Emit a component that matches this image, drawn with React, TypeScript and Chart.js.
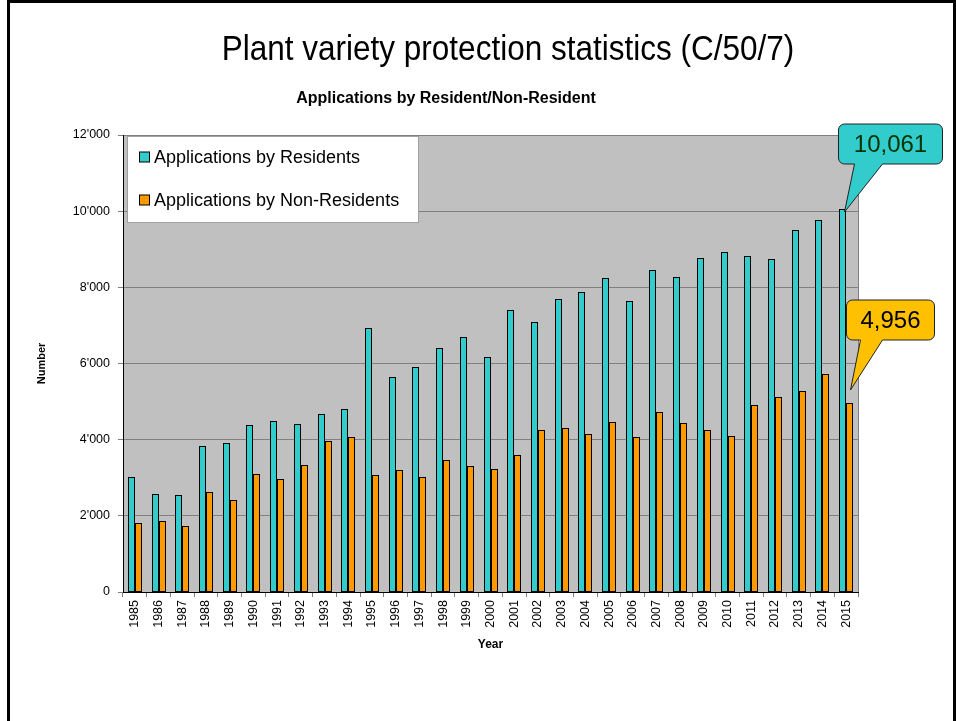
import React, { useEffect, useRef } from 'react';
import { Chart, registerables } from 'chart.js';

Chart.register(...registerables);

const FONT = "'Liberation Sans', Arial, Helvetica, sans-serif";

const chartTitle = 'Plant variety protection statistics (C/50/7)';
const chartSubtitle = 'Applications by Resident/Non-Resident';
const xAxisTitle = 'Year';
const yAxisTitle = 'Number';

const years = [
  '1985', '1986', '1987', '1988', '1989', '1990', '1991', '1992', '1993', '1994',
  '1995', '1996', '1997', '1998', '1999', '2000', '2001', '2002', '2003', '2004',
  '2005', '2006', '2007', '2008', '2009', '2010', '2011', '2012', '2013', '2014', '2015',
];

const residents = [
  3018, 2561, 2535, 3833, 3912, 4386, 4491, 4421, 4667, 4816,
  6939, 5640, 5912, 6395, 6693, 6158, 7395, 7088, 7684, 7877,
  8246, 7632, 8456, 8263, 8781, 8939, 8825, 8746, 9509, 9781, 10061,
];

const nonResidents = [
  1807, 1868, 1737, 2614, 2404, 3105, 2974, 3342, 3974, 4079,
  3061, 3193, 3009, 3474, 3316, 3228, 3588, 4254, 4307, 4158,
  4456, 4070, 4737, 4447, 4254, 4105, 4904, 5132, 5289, 5737, 4956,
];

const yTicks = [0, 2000, 4000, 6000, 8000, 10000, 12000];

const seriesNames = ['Applications by Residents', 'Applications by Non-Residents'];
const seriesColors = ['#33CCCC', '#FF9900'];
const calloutFills = ['#33CCCC', '#FFC000'];
const calloutTextColors = ['#003300', '#000000'];

function fmtTick(v: number): string {
  if (v === 0) return '0';
  const th = Math.floor(v / 1000);
  const rest = String(v % 1000).padStart(3, '0');
  return `${th}'${rest}`;
}

function drawCallout(
  ctx: CanvasRenderingContext2D,
  bx: number, by: number, bw: number, bh: number, r: number,
  t1: number, t2: number, tipX: number, tipY: number,
  fill: string, text: string, textColor: string
) {
  ctx.save();
  ctx.beginPath();
  ctx.moveTo(bx + r, by);
  ctx.lineTo(bx + bw - r, by);
  ctx.arcTo(bx + bw, by, bx + bw, by + r, r);
  ctx.lineTo(bx + bw, by + bh - r);
  ctx.arcTo(bx + bw, by + bh, bx + bw - r, by + bh, r);
  ctx.lineTo(t2, by + bh);
  ctx.lineTo(tipX, tipY);
  ctx.lineTo(t1, by + bh);
  ctx.lineTo(bx + r, by + bh);
  ctx.arcTo(bx, by + bh, bx, by + bh - r, r);
  ctx.lineTo(bx, by + r);
  ctx.arcTo(bx, by, bx + r, by, r);
  ctx.closePath();
  ctx.fillStyle = fill;
  ctx.fill();
  ctx.lineWidth = 1;
  ctx.strokeStyle = '#222222';
  ctx.stroke();
  ctx.fillStyle = textColor;
  ctx.font = `24px ${FONT}`;
  ctx.textAlign = 'center';
  ctx.textBaseline = 'middle';
  ctx.fillText(text, bx + bw / 2, by + bh / 2 + 1);
  ctx.restore();
}

const decorPlugin = {
  id: 'decor',
  beforeDraw(chart: any) {
    const { ctx, chartArea } = chart;
    ctx.save();
    ctx.fillStyle = '#FFFFFF';
    ctx.fillRect(0, 0, chart.width, chart.height);
    ctx.fillStyle = '#C0C0C0';
    ctx.fillRect(chartArea.left, chartArea.top, chartArea.right - chartArea.left, chartArea.bottom - chartArea.top);
    ctx.restore();
  },
  beforeDatasetsDraw(chart: any) {
    // snap bar rectangles to whole pixels so their outlines stay crisp
    chart.data.datasets.forEach((_: any, di: number) => {
      chart.getDatasetMeta(di).data.forEach((el: any) => {
        const w = Math.round(el.width);
        const left = Math.round(el.x - el.width / 2);
        el.width = w;
        el.x = left + w / 2;
        el.y = Math.round(el.y);
        el.base = Math.round(el.base);
      });
    });
  },
  afterDraw(chart: any) {
    const { ctx, chartArea } = chart;
    ctx.save();
    // right edge of plot
    ctx.strokeStyle = '#808080';
    ctx.lineWidth = 1;
    ctx.beginPath();
    ctx.moveTo(Math.round(chartArea.right) + 0.5, chartArea.top);
    ctx.lineTo(Math.round(chartArea.right) + 0.5, chartArea.bottom);
    ctx.stroke();

    // titles
    ctx.fillStyle = '#000000';
    ctx.textAlign = 'center';
    ctx.textBaseline = 'alphabetic';
    ctx.save();
    ctx.translate(508, 60);
    ctx.scale(0.9, 1);
    ctx.font = `35px ${FONT}`;
    ctx.fillText(chartTitle, 0, 0);
    ctx.restore();
    ctx.font = `bold 16px ${FONT}`;
    ctx.fillText(chartSubtitle, 446, 103);

    // legend box
    const lx = chartArea.left + 4.5;
    const ly = chartArea.top + 1.5;
    ctx.fillStyle = '#FFFFFF';
    ctx.fillRect(lx, ly, 291, 86);
    ctx.strokeStyle = '#A0A0A0';
    ctx.lineWidth = 1;
    ctx.strokeRect(lx, ly, 291, 86);
    const rows = [157, 200];
    seriesNames.forEach((name, i) => {
      ctx.fillStyle = seriesColors[i];
      ctx.fillRect(139.5, rows[i] - 5, 10, 10);
      ctx.strokeStyle = '#000000';
      ctx.strokeRect(139.5, rows[i] - 5, 10, 10);
      ctx.fillStyle = '#000000';
      ctx.font = `18px ${FONT}`;
      ctx.textAlign = 'left';
      ctx.textBaseline = 'middle';
      ctx.fillText(name, 154, rows[i] + 1);
    });

    // callouts on the last bars
    const last = years.length - 1;
    const r = chart.getDatasetMeta(0).data[last];
    const n = chart.getDatasetMeta(1).data[last];
    if (r) {
      const tx = r.x + 2, ty = r.y + 3;
      drawCallout(ctx, tx - 6, ty - 88, 104, 40, 6, tx + 10, tx + 38, tx, ty,
        calloutFills[0], residents[last].toLocaleString('en-US'), calloutTextColors[0]);
    }
    if (n) {
      const tx = n.x + 1, ty = n.y - 13;
      drawCallout(ctx, tx - 4, ty - 90, 88, 40, 6, tx + 10, tx + 32, tx, ty,
        calloutFills[1], nonResidents[last].toLocaleString('en-US'), calloutTextColors[1]);
    }

    // outer frame
    ctx.strokeStyle = '#000000';
    ctx.lineWidth = 3;
    ctx.beginPath();
    ctx.moveTo(8.5, 721);
    ctx.lineTo(8.5, 1.5);
    ctx.lineTo(954.5, 1.5);
    ctx.lineTo(954.5, 721);
    ctx.stroke();
    ctx.restore();
  },
};

export default function App() {
  const canvasRef = useRef<HTMLCanvasElement | null>(null);

  useEffect(() => {
    const canvas = canvasRef.current;
    if (!canvas) return;
    const chart = new Chart(canvas, {
      type: 'bar',
      data: {
        labels: years,
        datasets: [
          {
            label: seriesNames[0],
            data: residents,
            backgroundColor: seriesColors[0],
            borderColor: '#000000',
            borderWidth: 1,
            borderSkipped: false,
            categoryPercentage: 0.59,
            barPercentage: 1.0,
          },
          {
            label: seriesNames[1],
            data: nonResidents,
            backgroundColor: seriesColors[1],
            borderColor: '#000000',
            borderWidth: 1,
            borderSkipped: false,
            categoryPercentage: 0.59,
            barPercentage: 1.0,
          },
        ],
      },
      options: {
        responsive: false,
        animation: false,
        devicePixelRatio: 1,
        layout: { padding: { top: 135, right: 98, bottom: 59, left: 0 } },
        plugins: {
          legend: { display: false },
          tooltip: { enabled: false },
          title: { display: false },
        },
        scales: {
          x: {
            grid: {
              drawOnChartArea: false,
              drawTicks: true,
              tickLength: 5,
              color: '#808080',
              offset: true,
            },
            border: { color: '#000000', width: 1 },
            ticks: {
              font: { family: FONT, size: 12.5 },
              color: '#000000',
              minRotation: 90,
              maxRotation: 90,
              autoSkip: false,
              padding: 3,
            },
            title: {
              display: true,
              text: xAxisTitle,
              color: '#000000',
              font: { family: FONT, size: 12, weight: 'bold' },
              padding: { top: 0, bottom: 10 },
            },
            afterFit: (s: any) => { s.height = 70; },
          },
          y: {
            min: 0,
            max: 12000,
            afterBuildTicks: (s: any) => { s.ticks = yTicks.map((v) => ({ value: v })); },
            ticks: {
              callback: (v: any) => fmtTick(Number(v)),
              font: { family: FONT, size: 12.5 },
              color: '#000000',
              padding: 8,
            },
            grid: { color: '#808080', lineWidth: 1, tickLength: 5 },
            border: { color: '#000000', width: 1 },
            title: {
              display: true,
              text: yAxisTitle,
              color: '#000000',
              font: { family: FONT, size: 11, weight: 'bold' },
              padding: { top: 35, bottom: 0 },
            },
            afterFit: (s: any) => { s.width = 123; },
          },
        },
      },
      plugins: [decorPlugin],
    } as any);
    return () => chart.destroy();
  }, []);

  return (
    <div style={{ position: 'fixed', left: 0, top: 0, width: 956, height: 721, background: '#fff' }}>
      <canvas ref={canvasRef} width={956} height={721} style={{ display: 'block', width: 956, height: 721 }} />
    </div>
  );
}
